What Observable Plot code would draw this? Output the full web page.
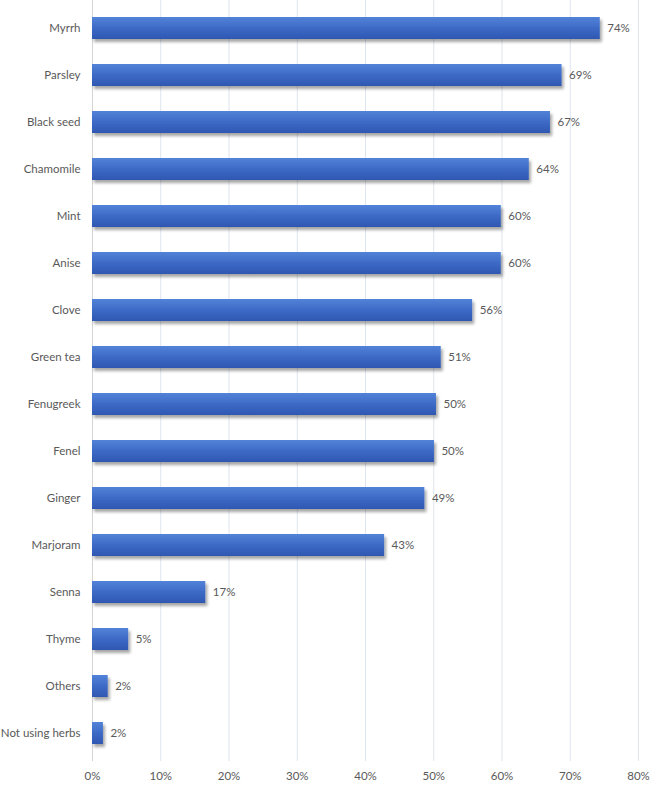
<!DOCTYPE html>
<html>
<head>
<meta charset="utf-8">
<script src="https://cdn.jsdelivr.net/npm/d3@7"></script>
<script src="https://cdn.jsdelivr.net/npm/@observablehq/plot@0.6"></script>
<style>
  html, body { margin: 0; padding: 0; background: #fff; }
  #chart { width: 650px; height: 785px; }
</style>
</head>
<body>
<div id="chart"></div>
<script>
const categories = ["Myrrh", "Parsley", "Black seed", "Chamomile", "Mint", "Anise", "Clove", "Green tea",
  "Fenugreek", "Fenel", "Ginger", "Marjoram", "Senna", "Thyme", "Others", "Not using herbs"];
const values = [74.4, 68.8, 67.1, 64.0, 59.9, 59.9, 55.7, 51.1, 50.4, 50.1, 48.7, 42.8, 16.6, 5.3, 2.3, 1.6];
const labels = ["74%", "69%", "67%", "64%", "60%", "60%", "56%", "51%", "50%", "50%", "49%", "43%", "17%", "5%", "2%", "2%"];
const xTicks = [0, 10, 20, 30, 40, 50, 60, 70, 80];

const data = categories.map((c, i) => ({category: c, value: values[i], label: labels[i]}));

const chart = Plot.plot({
  width: 650,
  height: 785,
  marginLeft: 92,
  marginRight: 12,
  marginTop: 0,
  marginBottom: 24,
  style: {fontFamily: "Lato, 'Open Sans', sans-serif", fontSize: "11.5px", color: "#595959", background: "#fff"},
  x: {domain: [0, 80], label: null},
  y: {domain: categories, paddingInner: 0.536, paddingOuter: 0.295, label: null},
  marks: [
    Plot.gridX(xTicks, {stroke: "#dde5ef", strokeOpacity: 1}),
    Plot.axisX({ticks: xTicks, tickSize: 0, tickPadding: 10, tickFormat: d => d + "%", label: null}),
    Plot.axisY({tickSize: 0, tickPadding: 12, label: null}),
    Plot.ruleX([0], {stroke: "#d4d4d4"}),
    Plot.barX(data, {y: "category", x: "value", fill: "url(#barGrad)"}),
    Plot.text(data, {y: "category", x: "value", text: "label", textAnchor: "start", dx: 7, fill: "#595959"})
  ]
});

const ns = "http://www.w3.org/2000/svg";
const defs = document.createElementNS(ns, "defs");
defs.innerHTML = `
  <linearGradient id="barGrad" x1="0" y1="0" x2="0" y2="1">
    <stop offset="0" stop-color="#5283d8"/>
    <stop offset="0.5" stop-color="#3d6ac6"/>
    <stop offset="1" stop-color="#2e57b1"/>
  </linearGradient>
  <filter id="barShadow" x="-5%" y="-20%" width="115%" height="160%">
    <feDropShadow dx="2" dy="3" stdDeviation="1.5" flood-color="#000" flood-opacity="0.35"/>
  </filter>`;
chart.insertBefore(defs, chart.firstChild);
chart.querySelectorAll('g[aria-label="bar"]').forEach(g => g.setAttribute("filter", "url(#barShadow)"));

document.getElementById("chart").appendChild(chart);
</script>
</body>
</html>
